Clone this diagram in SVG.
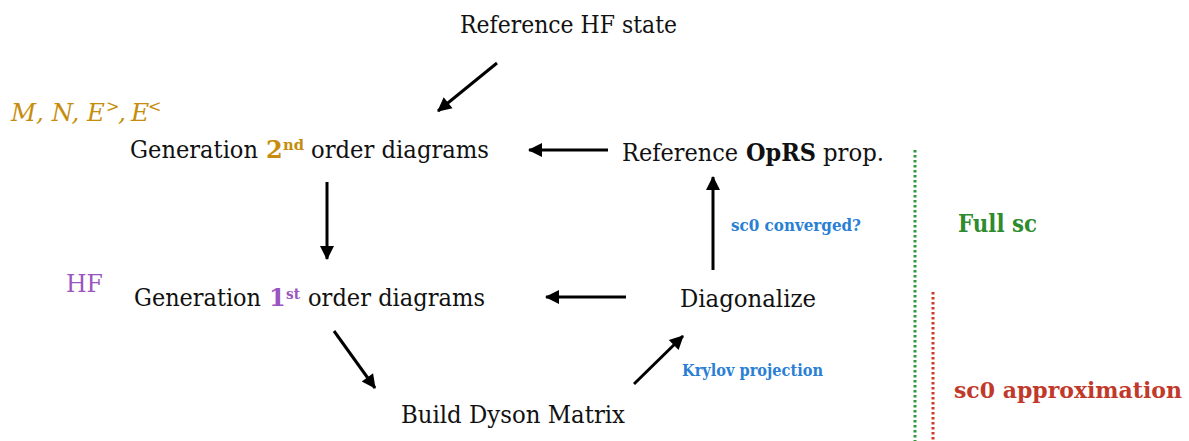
<svg xmlns="http://www.w3.org/2000/svg" width="1189" height="441" viewBox="0 0 1189 441">
  <style>
    text { font-family: "DejaVu Serif", "Liberation Serif", serif; fill: #111; }
    .node { font-size: 24px; }
    .sup { font-size: 15px; font-weight: bold; }
    .gold { fill: #c68d0c; }
    .purple { fill: #9a55c0; }
    .note { font-size: 16px; font-weight: bold; fill: #2a7fd4; }
    .big { font-weight: bold; }
    .conn { stroke: #000; stroke-width: 3; fill: none; marker-end: url(#head); }
  </style>
  <defs>
    <marker id="head" markerUnits="userSpaceOnUse" markerWidth="16" markerHeight="16" viewBox="0 0 16 16" refX="14" refY="8" orient="auto">
      <path d="M1,1 L15,8 L1,15 Z" fill="#000"/>
    </marker>
  </defs>

  <rect width="1189" height="441" fill="#fff"/>

  <!-- connectors -->
  <g id="connectors">
    <line class="conn" x1="497" y1="63" x2="438" y2="111"/>
    <line class="conn" x1="608" y1="150" x2="529" y2="150"/>
    <line class="conn" x1="327" y1="182" x2="327" y2="259"/>
    <line class="conn" x1="713" y1="270" x2="713" y2="177"/>
    <line class="conn" x1="626" y1="297" x2="546" y2="297"/>
    <line class="conn" x1="334" y1="331" x2="375" y2="388"/>
    <line class="conn" x1="634" y1="384" x2="683" y2="336"/>
  </g>

  <g id="ref-hf">
    <text class="node" x="460" y="33" textLength="217" lengthAdjust="spacingAndGlyphs">Reference HF state</text>
  </g>

  <!-- propagator inputs for the 2nd order terms -->
  <g id="params" font-style="italic">
    <text class="gold" x="11" y="121" font-size="25" textLength="94" lengthAdjust="spacingAndGlyphs">M, N, E</text>
    <text class="gold" x="106" y="112" font-size="16">&gt;</text>
    <text class="gold" x="118" y="121" font-size="25">,</text>
    <text class="gold" x="131" y="121" font-size="25">E</text>
    <text class="gold" x="148" y="112" font-size="16">&lt;</text>
  </g>

  <g id="gen2">
    <text class="node" x="130" y="158" textLength="128" lengthAdjust="spacingAndGlyphs">Generation</text>
    <text class="node gold" x="266" y="158" font-weight="bold">2</text>
    <text class="sup gold" x="283" y="150" textLength="21" lengthAdjust="spacingAndGlyphs">nd</text>
    <text class="node" x="311" y="158" textLength="178" lengthAdjust="spacingAndGlyphs">order diagrams</text>
  </g>

  <g id="ref-oprs">
    <text class="node" x="622" y="161" textLength="116" lengthAdjust="spacingAndGlyphs">Reference</text>
    <text class="node" x="746" y="161" font-weight="bold" textLength="70" lengthAdjust="spacingAndGlyphs">OpRS</text>
    <text class="node" x="823" y="161" textLength="61" lengthAdjust="spacingAndGlyphs">prop.</text>
  </g>

  <g id="hf-label">
    <text class="purple" x="66" y="292" font-size="24" textLength="37" lengthAdjust="spacingAndGlyphs">HF</text>
  </g>

  <g id="gen1">
    <text class="node" x="134" y="306" textLength="127" lengthAdjust="spacingAndGlyphs">Generation</text>
    <text class="node purple" x="269" y="306" font-weight="bold">1</text>
    <text class="sup purple" x="286" y="299" textLength="14" lengthAdjust="spacingAndGlyphs">st</text>
    <text class="node" x="308" y="306" textLength="177" lengthAdjust="spacingAndGlyphs">order diagrams</text>
  </g>

  <g id="diagonalize">
    <text class="node" x="680" y="307" textLength="136" lengthAdjust="spacingAndGlyphs">Diagonalize</text>
  </g>

  <g id="dyson">
    <text class="node" x="401" y="423" textLength="224" lengthAdjust="spacingAndGlyphs">Build Dyson Matrix</text>
  </g>

  <g id="notes">
    <text class="note" x="731" y="231" textLength="130" lengthAdjust="spacingAndGlyphs">sc0 converged?</text>
    <text class="note" x="682" y="376" textLength="141" lengthAdjust="spacingAndGlyphs">Krylov projection</text>
  </g>

  <!-- regime markers -->
  <g id="full-sc">
    <line x1="915" y1="150" x2="915" y2="441" stroke="#2e9a3a" stroke-width="3" stroke-dasharray="2.5 2.5"/>
    <text class="big" x="958" y="232" font-size="25" style="fill:#2e8b2e" textLength="79" lengthAdjust="spacingAndGlyphs">Full sc</text>
  </g>

  <g id="sc0-approx">
    <line x1="933" y1="292" x2="933" y2="441" stroke="#cc3a2a" stroke-width="3" stroke-dasharray="2.5 2.5"/>
    <text class="big" x="954" y="398" font-size="22" style="fill:#c0392b" textLength="228" lengthAdjust="spacingAndGlyphs">sc0 approximation</text>
  </g>
</svg>
